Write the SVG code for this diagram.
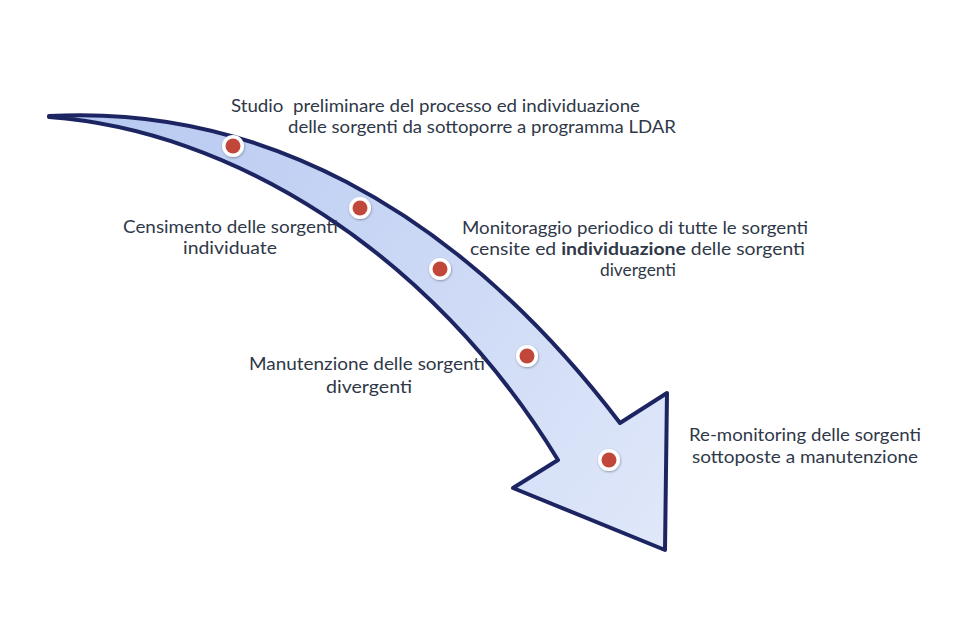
<svg xmlns="http://www.w3.org/2000/svg" width="955" height="636" viewBox="0 0 955 636">
  <defs>
    <linearGradient id="arrowFill" gradientUnits="userSpaceOnUse" x1="60" y1="110" x2="660" y2="540">
      <stop offset="0" stop-color="#b6c8f1"/>
      <stop offset="1" stop-color="#dfe7f9"/>
    </linearGradient>
    <filter id="shadow" x="-50%" y="-50%" width="200%" height="200%">
      <feDropShadow dx="0.5" dy="1" stdDeviation="1.2" flood-color="#000" flood-opacity="0.35"/>
    </filter>
  </defs>
  <style>
    .lbl { font-family: Lato, "Open Sans", "Liberation Sans", sans-serif; font-size: 17px; fill: #2f3848; }
    .ring { fill: #ffffff; filter: url(#shadow); }
    .dot { fill: #c2473b; }
    .arrow { fill: url(#arrowFill); stroke: #1c2562; stroke-width: 4; stroke-linejoin: round; }
  </style>
  <rect width="955" height="636" fill="#ffffff"/>

  <g id="connectors">
    <path class="arrow" d="M 49 116 C 250 105 450 200 620 423 L 667 393 L 665 550 L 513 488 L 558 460 C 430 250 230 130 49 117 Z"/>
  </g>

  <g id="step1">
    <circle class="ring" cx="233" cy="146" r="11"/>
    <circle class="dot" cx="233" cy="146" r="7.5"/>
    <text class="lbl" x="231" y="112" textLength="409" lengthAdjust="spacingAndGlyphs" xml:space="preserve">Studio  preliminare del processo ed individuazione</text>
    <text class="lbl" x="288" y="133" textLength="388" lengthAdjust="spacingAndGlyphs">delle sorgenti da sottoporre a programma LDAR</text>
  </g>

  <g id="step2">
    <circle class="ring" cx="360" cy="208" r="11"/>
    <circle class="dot" cx="360" cy="208" r="7.5"/>
    <text class="lbl" x="123" y="233" textLength="215" lengthAdjust="spacingAndGlyphs">Censimento delle sorgenti</text>
    <text class="lbl" x="183" y="254" textLength="94" lengthAdjust="spacingAndGlyphs">individuate</text>
  </g>

  <g id="step3">
    <circle class="ring" cx="440" cy="269" r="11"/>
    <circle class="dot" cx="440" cy="269" r="7.5"/>
    <text class="lbl" x="462" y="234" textLength="346" lengthAdjust="spacingAndGlyphs">Monitoraggio periodico di tutte le sorgenti</text>
    <text class="lbl" x="470" y="255" textLength="335" lengthAdjust="spacingAndGlyphs">censite ed <tspan font-weight="bold">individuazione</tspan> delle sorgenti</text>
    <text class="lbl" x="600" y="276" textLength="76" lengthAdjust="spacingAndGlyphs">divergenti</text>
  </g>

  <g id="step4">
    <circle class="ring" cx="527" cy="356" r="11"/>
    <circle class="dot" cx="527" cy="356" r="7.5"/>
    <text class="lbl" x="249" y="370" textLength="236" lengthAdjust="spacingAndGlyphs">Manutenzione delle sorgenti</text>
    <text class="lbl" x="326" y="393" textLength="86" lengthAdjust="spacingAndGlyphs">divergenti</text>
  </g>

  <g id="step5">
    <circle class="ring" cx="609" cy="460" r="11"/>
    <circle class="dot" cx="609" cy="460" r="7.5"/>
    <text class="lbl" x="689" y="441" textLength="232" lengthAdjust="spacingAndGlyphs">Re-monitoring delle sorgenti</text>
    <text class="lbl" x="692" y="463" textLength="226" lengthAdjust="spacingAndGlyphs">sottoposte a manutenzione</text>
  </g>
</svg>
